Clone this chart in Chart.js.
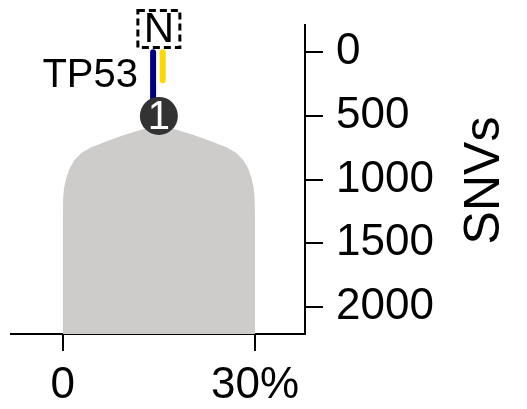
<!DOCTYPE html>
<html lang="en">
<head>
<meta charset="UTF-8">
<title>Clone tree</title>
<script src="https://cdn.jsdelivr.net/npm/chart.js@4.4.0/dist/chart.umd.min.js"></script>
<style>
  body { margin: 0; background: #fff; }
  #box { width: 527px; height: 409px; }
</style>
</head>
<body>
<div id="box"><canvas id="tree" width="527" height="409"></canvas></div>
<script>
// outline of the grey clone shape (cellular prevalence %, SNVs)
const shapeX = [0, 0, 0.05, 0.2, 0.56, 1.09, 1.87, 2.9, 4.46, 7.07, 9.67, 12.26, 13.8, 15,
                16.2, 17.74, 20.33, 22.93, 25.54, 27.1, 28.13, 28.91, 29.44, 29.8, 29.95, 30, 30];
const shapeY = [2215, 1279, 1161, 1067, 988, 910, 844, 792, 747, 695, 648, 608, 590, 582,
                590, 608, 648, 695, 747, 792, 844, 910, 988, 1067, 1161, 1279, 2215];
// trunk branch and mutation bar
const trunkX = [14.1, 14.1];
const trunkY = [0, 500];
const mutX = [15.6, 15.6];
const mutY = [0, 220];
// clone node
const nodeX = [15];
const nodeY = [500];
const nodeLabels = ['1'];
// axes
const xTicks = [0, 30];
const xTickLabels = ['0', '30%'];
const yTicks = [0, 500, 1000, 1500, 2000];

const FONT = '"Liberation Sans", Arial, sans-serif';
const pts = (xs, ys) => xs.map((x, i) => ({x: x, y: ys[i]}));

const textPlugin = {
  id: 'texts',
  afterDatasetsDraw(chart) {
    const ctx = chart.ctx;
    const sx = chart.scales.x, sy = chart.scales.y;
    ctx.save();
    ctx.textAlign = 'center';
    ctx.textBaseline = 'middle';

    // number inside the node
    ctx.fillStyle = '#fff';
    ctx.font = '40px ' + FONT;
    nodeLabels.forEach((t, i) => {
      ctx.fillText(t, sx.getPixelForValue(nodeX[i]), sy.getPixelForValue(nodeY[i]) + 2);
    });

    // root box "N"
    const rx = sx.getPixelForValue(15), ry = sy.getPixelForValue(-187);
    ctx.setLineDash([7, 4]);
    ctx.lineWidth = 3;
    ctx.strokeStyle = '#000';
    ctx.strokeRect(rx - 21, ry - 18, 42, 37);
    ctx.setLineDash([]);
    ctx.fillStyle = '#000';
    ctx.font = '42px ' + FONT;
    ctx.fillText('N', rx, ry + 2);

    // gene label
    ctx.textAlign = 'right';
    ctx.font = '40px ' + FONT;
    ctx.fillText('TP53', sx.getPixelForValue(11.75), sy.getPixelForValue(171) + 2);

    // y axis title, reading upward
    const ya = chart.scales.y;
    ctx.translate(ya.left + 180, (ya.top + ya.bottom) / 2 + 1);
    ctx.rotate(-Math.PI / 2);
    ctx.textAlign = 'center';
    ctx.font = '50px ' + FONT;
    ctx.fillText('SNVs', 0, 0);
    ctx.restore();
  }
};

new Chart(document.getElementById('tree'), {
  type: 'line',
  data: {
    datasets: [
      {
        data: pts(nodeX, nodeY),
        showLine: false,
        pointRadius: 19,
        pointHoverRadius: 19,
        pointBackgroundColor: '#333333',
        pointBorderWidth: 0,
        order: 0
      },
      {
        data: pts(trunkX, trunkY),
        borderColor: '#000080',
        borderWidth: 6,
        borderCapStyle: 'round',
        pointRadius: 0,
        order: 1
      },
      {
        data: pts(mutX, mutY),
        borderColor: '#ffd700',
        borderWidth: 6,
        borderCapStyle: 'round',
        pointRadius: 0,
        order: 1
      },
      {
        data: pts(shapeX, shapeY),
        borderWidth: 0,
        borderColor: 'rgba(0,0,0,0)',
        backgroundColor: '#cdccca',
        fill: {value: 2215},
        pointRadius: 0,
        tension: 0,
        order: 2
      }
    ]
  },
  options: {
    responsive: false,
    animation: false,
    devicePixelRatio: 1,
    layout: { autoPadding: false, padding: { left: 11, top: 25, right: 0, bottom: 0 } },
    plugins: { legend: { display: false }, tooltip: { enabled: false } },
    scales: {
      x: {
        type: 'linear',
        min: -8.07,
        max: 37.8,
        border: { display: true, color: '#000', width: 2 },
        grid: { drawOnChartArea: false, drawTicks: true, tickLength: 17, color: '#000', lineWidth: 2 },
        afterBuildTicks: s => { s.ticks = xTicks.map(v => ({value: v})); },
        ticks: {
          padding: 8,
          color: '#000',
          font: { family: FONT, size: 44 },
          maxRotation: 0,
          callback: (v) => xTickLabels[xTicks.indexOf(v)]
        },
        afterFit: s => { s.height = 75; s.paddingLeft = 0; s.paddingRight = 0; }
      },
      y: {
        type: 'linear',
        position: 'right',
        reverse: true,
        min: -215,
        max: 2215,
        border: { display: true, color: '#000', width: 2 },
        grid: { drawOnChartArea: false, drawTicks: true, tickLength: 18, color: '#000', lineWidth: 2 },
        afterBuildTicks: s => { s.ticks = yTicks.map(v => ({value: v})); },
        ticks: {
          padding: 13,
          color: '#000',
          font: { family: FONT, size: 44 },
          callback: (v) => String(v)
        },
        afterFit: s => { s.width = 222; s.paddingTop = 0; s.paddingBottom = 0; }
      }
    }
  },
  plugins: [textPlugin]
});
</script>
</body>
</html>
